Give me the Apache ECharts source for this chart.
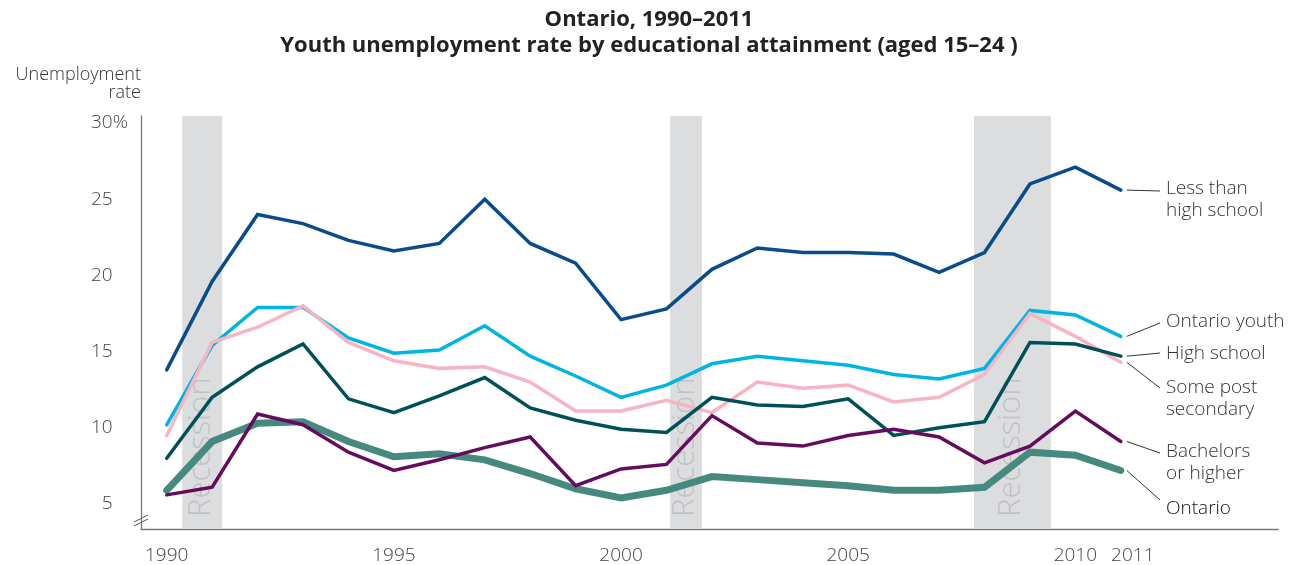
<!DOCTYPE html>
<html>
<head>
<meta charset="utf-8">
<title>Ontario youth unemployment</title>
<script src="https://cdn.jsdelivr.net/npm/echarts@6/dist/echarts.min.js"></script>
<style>
  html, body { margin: 0; padding: 0; background: #fff; }
  #chart { width: 1298px; height: 565px; }
</style>
</head>
<body>
<div id="chart"></div>
<script>
// data (percent)
const years = [1990, 1991, 1992, 1993, 1994, 1995, 1996, 1997, 1998, 1999, 2000,
               2001, 2002, 2003, 2004, 2005, 2006, 2007, 2008, 2009, 2010, 2011];
const lessThanHighSchool = [13.8, 19.6, 24.0, 23.4, 22.3, 21.6, 22.1, 25.0, 22.1, 20.8, 17.1,
                            17.8, 20.4, 21.8, 21.5, 21.5, 21.4, 20.2, 21.5, 26.0, 27.1, 25.6];
const ontarioYouth = [10.2, 15.4, 17.9, 17.9, 15.9, 14.9, 15.1, 16.7, 14.7, 13.4, 12.0,
                      12.8, 14.2, 14.7, 14.4, 14.1, 13.5, 13.2, 13.9, 17.7, 17.4, 16.0];
const somePostSecondary = [9.5, 15.6, 16.6, 18.0, 15.6, 14.4, 13.9, 14.0, 13.0, 11.1, 11.1,
                           11.8, 11.0, 13.0, 12.6, 12.8, 11.7, 12.0, 13.5, 17.5, 16.0, 14.3];
const highSchool = [8.0, 12.0, 14.0, 15.5, 11.9, 11.0, 12.1, 13.3, 11.3, 10.5, 9.9,
                    9.7, 12.0, 11.5, 11.4, 11.9, 9.5, 10.0, 10.4, 15.6, 15.5, 14.7];
const bachelorsOrHigher = [5.6, 6.1, 10.9, 10.2, 8.4, 7.2, 7.9, 8.7, 9.4, 6.2, 7.3,
                           7.6, 10.8, 9.0, 8.8, 9.5, 9.9, 9.4, 7.7, 8.8, 11.1, 9.1];
const ontario = [5.9, 9.1, 10.3, 10.4, 9.1, 8.1, 8.3, 7.9, 7.0, 6.0, 5.4,
                 5.9, 6.8, 6.6, 6.4, 6.2, 5.9, 5.9, 6.1, 8.4, 8.2, 7.2];
const recessions = [[1990.34, 1991.22], [2001.08, 2001.78], [2007.77, 2009.46]];
const yTicks = [5, 10, 15, 20, 25, 30];
const xTicks = [1990, 1995, 2000, 2005, 2010, 2011];

const FONT = 'Open Sans';

const lines = [
  { name: 'Ontario', data: ontario, color: '#46897f', width: 7 },
  { name: 'Ontario youth', data: ontarioYouth, color: '#00b5e2', width: 3.5 },
  { name: 'Some post secondary', data: somePostSecondary, color: '#f7b4c3', width: 3.5 },
  { name: 'High school', data: highSchool, color: '#00505a', width: 3.5 },
  { name: 'Bachelors or higher', data: bachelorsOrHigher, color: '#650c5f', width: 3.5 },
  { name: 'Less than high school', data: lessThanHighSchool, color: '#0a4b8d', width: 3.5 }
];

// where the right-hand labels sit (pixels): first text line centre and leader end
const endLabels = {
  'Less than high school': { text: 'Less than\nhigh school', y: 189, lineY: 191 },
  'Ontario youth': { text: 'Ontario youth', y: 322, lineY: 323 },
  'High school': { text: 'High school', y: 354, lineY: 353 },
  'Some post secondary': { text: 'Some post\nsecondary', y: 388, lineY: 388 },
  'Bachelors or higher': { text: 'Bachelors\nor higher', y: 452, lineY: 453 },
  'Ontario': { text: 'Ontario', y: 509, lineY: 500, color: '#111' }
};

const chart = echarts.init(document.getElementById('chart'));

const option = {
  animation: false,
  title: {
    text: 'Ontario, 1990–2011\nYouth unemployment rate by educational attainment (aged 15–24 )',
    left: 'center',
    top: 7,
    padding: [0, 0, 0, 16],
    textStyle: { fontFamily: FONT, fontWeight: 'bold', fontSize: 22, color: '#222', lineHeight: 26 }
  },
  grid: { left: 141, right: 20, top: 116, bottom: 35 },
  xAxis: {
    type: 'value',
    min: 1989.434,
    max: 2014.46,
    splitLine: { show: false },
    axisTick: { show: false },
    axisLine: { lineStyle: { color: '#777', width: 1.3 } },
    axisLabel: {
      customValues: xTicks,
      margin: 17,
      fontFamily: FONT, fontSize: 19, fontWeight: 300, color: '#444',
      formatter: function (v) { return v === 2011 ? '{r|2011}' : String(v); },
      rich: { r: { padding: [0, 0, 0, 24], fontFamily: FONT, fontSize: 19, fontWeight: 300, color: '#444' } }
    }
  },
  yAxis: {
    type: 'value',
    min: 3.36,
    max: 30.46,
    name: 'Unemployment\nrate',
    nameLocation: 'end',
    nameGap: 14,
    nameTextStyle: { align: 'right', verticalAlign: 'bottom', fontFamily: FONT, fontSize: 18, fontWeight: 300, color: '#333', lineHeight: 18 },
    splitLine: { show: false },
    axisTick: { show: false },
    axisLine: { show: true, lineStyle: { color: '#777', width: 1.3 } },
    axisLabel: {
      customValues: yTicks,
      margin: 13,
      fontFamily: FONT, fontSize: 19, fontWeight: 300, color: '#444',
      formatter: function (v) { return v === 30 ? '30%' : v + '{h|%}'; },
      rich: { h: { color: 'transparent', fontFamily: FONT, fontSize: 19, fontWeight: 300 } }
    }
  },
  series: [
    {
      type: 'custom',
      name: 'Recession',
      silent: true,
      z: 1,
      data: recessions,
      encode: { x: [0, 1] },
      renderItem: function (params, api) {
        const cs = params.coordSys;
        const x0 = api.coord([api.value(0), 10])[0];
        const x1 = api.coord([api.value(1), 10])[0];
        return {
          type: 'group',
          children: [
            { type: 'rect', shape: { x: x0, y: cs.y, width: x1 - x0, height: cs.height }, style: { fill: '#dcdddf' } },
            {
              type: 'text', x: (x0 + x1) / 2 - 1, y: cs.y + cs.height - 12, rotation: Math.PI / 2,
              style: { text: 'Recession', align: 'left', verticalAlign: 'middle', fill: '#c1c2c4',
                       fontFamily: FONT, fontSize: 31, fontWeight: 300 }
            }
          ]
        };
      }
    }
  ].concat(lines.map(function (s) {
    return {
      type: 'line',
      name: s.name,
      z: 3,
      data: years.map(function (y, i) { return [y, s.data[i]]; }),
      showSymbol: false,
      lineStyle: { color: s.color, width: s.width, cap: 'round', join: 'miter' },
      itemStyle: { color: s.color }
    };
  }))
};

chart.setOption(option);

// leader lines and end labels, placed from the library's own scale
const graphics = [];
lines.forEach(function (s) {
  const lab = endLabels[s.name];
  const p = chart.convertToPixel({ gridIndex: 0 }, [years[years.length - 1], s.data[s.data.length - 1]]);
  graphics.push({ type: 'line', shape: { x1: p[0] + 6, y1: p[1], x2: 1160, y2: lab.lineY },
                  style: { stroke: '#333', lineWidth: 1 } });
  graphics.push({ type: 'text', x: 1166, y: lab.y - 11,
                  style: { text: lab.text, fill: lab.color || '#333', fontFamily: FONT, fontSize: 19, fontWeight: 300,
                           lineHeight: 22, verticalAlign: 'top' } });
});
// axis break mark
graphics.push({ type: 'rect', shape: { x: 136, y: 516, width: 10, height: 6 }, style: { fill: '#fff' } });
graphics.push({ type: 'line', shape: { x1: 134, y1: 522, x2: 148, y2: 515 }, style: { stroke: '#555', lineWidth: 1 } });
graphics.push({ type: 'line', shape: { x1: 134, y1: 526, x2: 148, y2: 519 }, style: { stroke: '#555', lineWidth: 1 } });

chart.setOption({ graphic: graphics });

window.addEventListener('resize', function () { chart.resize(); });
</script>
</body>
</html>
